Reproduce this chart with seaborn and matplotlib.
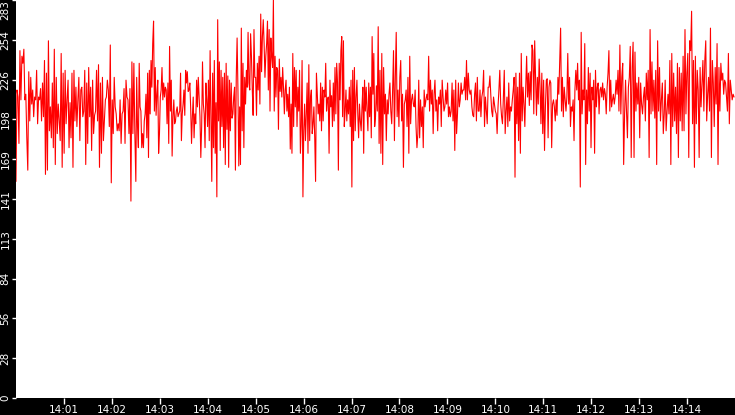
import numpy as np
import pandas as pd
import matplotlib
matplotlib.use("Agg")
import matplotlib.pyplot as plt
import seaborn as sns

# values, in 6 consecutive 2.5-minute segments starting 14:00
seg1 = [154, 219, 214, 181, 247, 212, 243, 238, 248, 212, 216, 185, 162, 232, 197, 228, 209, 219, 200, 214,
        212, 233, 195, 214, 212, 220, 197, 224, 200, 240, 159, 231, 162, 254, 190, 207, 185, 224, 178, 248,
        166, 228, 188, 209, 197, 183, 245, 164, 231, 174, 233, 195, 212, 226, 178, 210, 185, 231, 164, 233,
        197, 221, 193, 212, 228, 183, 219, 221, 200, 204, 233, 166, 224, 181, 235, 200, 221, 176, 226, 188,
        201, 204, 233, 197, 237, 164, 224, 174, 228, 183, 197, 212, 214, 226, 219, 193, 251, 153, 212, 188,
        228, 207, 202, 190, 195, 190, 212, 181, 202, 204, 220, 181, 226, 214, 212, 188, 220, 140, 239, 188,
        238, 188]
seg2 = [154, 228, 193, 178, 238, 207, 204, 178, 188, 178, 197, 202, 216, 185, 231, 171, 233, 202, 240, 221,
        252, 268, 204, 235, 201, 216, 226, 174, 188, 214, 219, 235, 212, 224, 214, 221, 219, 195, 224, 181,
        250, 204, 226, 172, 200, 212, 195, 197, 204, 207, 200, 202, 204, 231, 183, 202, 209, 219, 201, 233,
        224, 232, 218, 219, 224, 206, 181, 200, 214, 185, 202, 195, 226, 207, 228, 214, 200, 171, 193, 239,
        209, 202, 178, 224, 212, 193, 226, 183, 247, 202, 154, 231, 178, 240, 174, 210, 143, 269, 197, 239,
        176, 233, 193, 228, 178, 231, 166, 238, 191, 229, 164, 226, 190, 224, 199, 202, 214, 221, 162, 228,
        256, 219, 165, 207, 166, 263, 190, 238, 178, 228, 209, 233, 221, 260, 224, 219, 259, 243, 219, 201,
        262, 228]
seg3 = [228, 201, 238, 219, 243, 209, 273, 232, 257, 269, 252, 228, 243, 252, 268, 219, 262, 204, 256, 243,
        235, 283, 204, 243, 214, 235, 233, 191, 241, 218, 228, 214, 235, 220, 202, 219, 226, 204, 216, 200,
        221, 177, 209, 174, 245, 193, 235, 207, 233, 193, 221, 204, 233, 174, 193, 240, 143, 190, 209, 183,
        202, 224, 174, 237, 183, 214, 219, 188, 195, 207, 185, 154, 231, 216, 202, 209, 197, 224, 190, 221,
        197, 219, 214, 238, 204, 212, 214, 174, 226, 207, 215, 193, 224, 197, 235, 202, 238, 224, 162, 238,
        212, 247, 257, 200, 254, 193, 204, 219, 197, 212, 202, 221, 193, 226, 150, 233, 183, 235, 190, 214,
        226, 202, 185, 209, 197, 190, 207, 221, 174, 226, 204, 221, 204, 190, 224, 200, 221, 185, 257, 216,
        245, 193]
seg4 = [200, 222, 204, 264, 181, 233, 174, 245, 166, 235, 202, 216, 183, 212, 202, 216, 224, 204, 195, 219,
        247, 183, 228, 260, 200, 219, 193, 228, 240, 197, 216, 164, 209, 212, 219, 193, 228, 174, 243, 195,
        212, 216, 209, 207, 219, 193, 178, 188, 226, 185, 212, 193, 207, 178, 219, 207, 212, 216, 212, 243,
        204, 226, 209, 219, 188, 216, 226, 204, 212, 190, 214, 209, 219, 193, 226, 214, 204, 207, 219, 209,
        224, 200, 207, 200, 204, 224, 197, 219, 176, 226, 188, 202, 224, 207, 212, 224, 216, 219, 219, 228,
        212, 240, 212, 231, 219, 216, 219, 207, 201, 200, 216, 224, 197, 228, 204, 204, 219, 200, 214, 218,
        233, 193, 214, 204, 195, 221, 221, 229, 215, 204, 200, 214, 209]
seg5 = [204, 202, 188, 207, 219, 233, 209, 200, 195, 214, 233, 188, 204, 214, 193, 224, 197, 207, 204, 212,
        219, 228, 157, 231, 195, 221, 183, 231, 174, 245, 197, 221, 209, 193, 221, 243, 214, 231, 208, 232,
        212, 251, 247, 202, 254, 228, 201, 228, 209, 241, 221, 195, 231, 188, 226, 176, 207, 226, 227, 185,
        221, 226, 224, 178, 209, 212, 207, 197, 212, 201, 228, 216, 241, 263, 204, 228, 200, 221, 212, 204,
        214, 245, 209, 228, 193, 207, 204, 212, 183, 219, 233, 219, 238, 212, 226, 150, 260, 202, 219, 212,
        252, 166, 219, 195, 235, 204, 231, 178, 221, 212, 226, 174, 233, 207, 221, 224, 202, 219, 221, 214,
        224, 212, 220, 216, 202, 221, 231, 247, 204, 226, 207, 212, 216, 209]
seg6 = [214, 226, 216, 233, 204, 251, 202, 228, 238, 166, 202, 226, 204, 185, 221, 228, 250, 171, 235, 253,
        171, 246, 204, 224, 209, 228, 185, 224, 209, 202, 214, 221, 197, 231, 212, 233, 171, 262, 202, 239,
        204, 226, 199, 233, 166, 254, 204, 235, 197, 212, 224, 188, 202, 226, 190, 204, 216, 202, 240, 166,
        245, 193, 231, 197, 221, 188, 238, 171, 235, 197, 231, 190, 243, 190, 262, 202, 231, 245, 171, 254,
        247, 275, 195, 240, 164, 243, 195, 233, 219, 171, 235, 207, 224, 240, 204, 240, 254, 197, 216, 228,
        204, 263, 171, 240, 224, 193, 235, 209, 252, 166, 235, 204, 238, 226, 231, 216, 226, 224, 214, 204,
        245, 195, 226, 219, 212, 216, 214]
segments = [seg1, seg2, seg3, seg4, seg5, seg6]
segment_seconds = 150
start_time = "2024-01-01 14:00:00"
y_max = 283
y_tick_labels = ["0", "28", "56", "84", "113", "141", "169", "198", "226", "254", "283"]
x_tick_labels = ["14:01", "14:02", "14:03", "14:04", "14:05", "14:06", "14:07",
                 "14:08", "14:09", "14:10", "14:11", "14:12", "14:13", "14:14"]

t0 = pd.Timestamp(start_time)
times, vals = [], []
for k, seg in enumerate(segments):
    offs = np.linspace(0, segment_seconds, len(seg), endpoint=False)
    for o, v in zip(offs, seg):
        times.append(t0 + pd.Timedelta(seconds=k * segment_seconds + o))
        vals.append(v)
df = pd.DataFrame({"time": times, "value": vals})

sns.set_style("white")
plt.rcParams["font.family"] = ["DejaVu Sans"]

fig = plt.figure(figsize=(7.35, 4.15), dpi=100, facecolor="black")
ax = fig.add_axes([16 / 735, 17 / 415, 719 / 735, 398 / 415])
ax.set_facecolor("white")
sns.lineplot(data=df, x="time", y="value", ax=ax, color="#ff0000",
             linewidth=0.8, estimator=None, legend=False)

t_end = t0 + pd.Timedelta(seconds=len(segments) * segment_seconds)
ax.set_xlim(t0, t_end)
ax.set_ylim(0, y_max)
for s in ax.spines.values():
    s.set_visible(False)
ax.grid(False)
ax.set_xlabel("")
ax.set_ylabel("")

xt = [t0 + pd.Timedelta(minutes=i + 1) for i in range(len(x_tick_labels))]
ax.set_xticks(xt)
ax.set_xticklabels(x_tick_labels)
yt = np.linspace(0, y_max, len(y_tick_labels))
ax.set_yticks(yt)
ax.set_yticklabels(y_tick_labels, rotation=90, va="center")
ax.tick_params(axis="both", colors="white", labelsize=7.5, direction="out")
ax.tick_params(axis="x", length=4.5, width=1, pad=0.5, bottom=True)
ax.tick_params(axis="y", length=3, width=1, pad=1, left=True)
lbls = ax.get_yticklabels()
lbls[-1].set_va("top")
lbls[0].set_va("center")

fig.savefig("out.png", dpi=100, facecolor="black")
